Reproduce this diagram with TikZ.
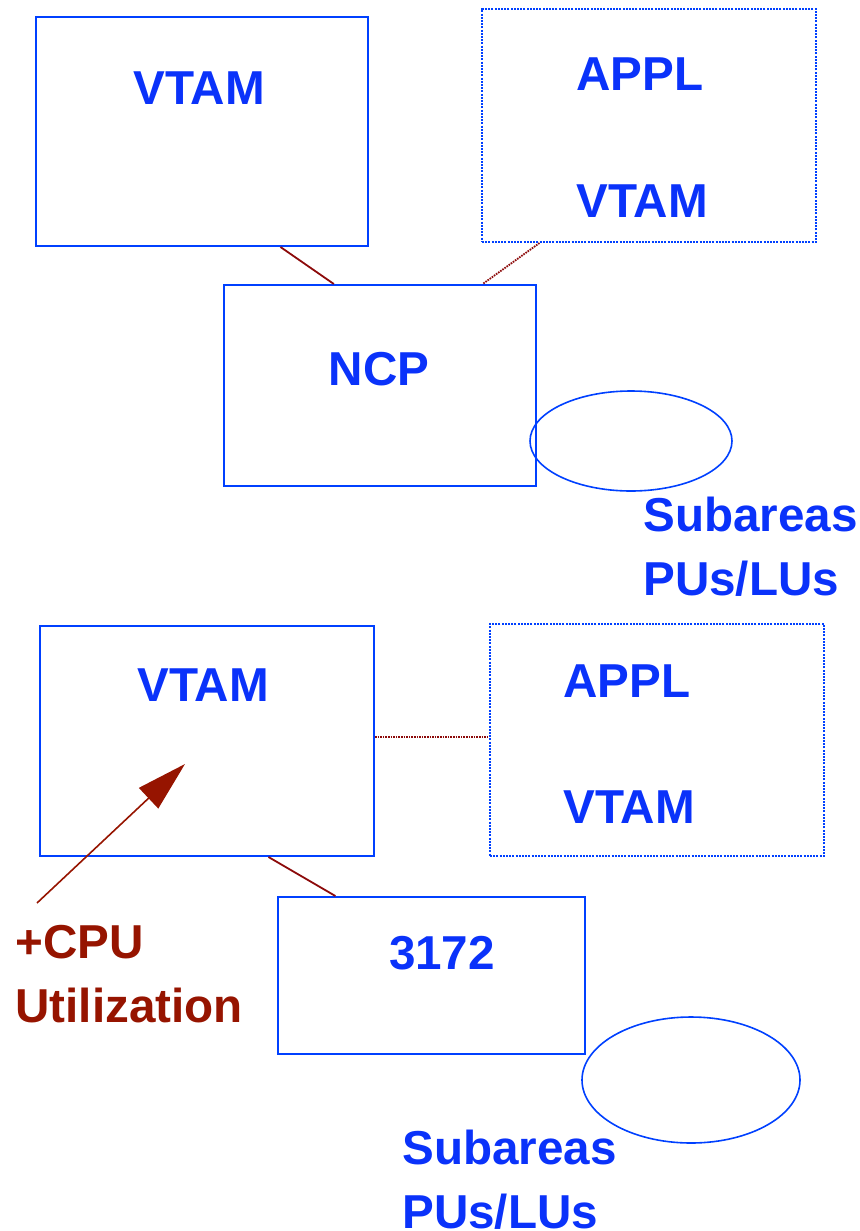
\documentclass[tikz,border=0pt]{standalone}
\usepackage{fontspec}
\setmainfont{Liberation Sans}
\usepackage{tikz}
\usetikzlibrary{shapes.geometric, arrows.meta, positioning, calc}
\definecolor{snablue}{RGB}{0,64,255}
\definecolor{snatext}{RGB}{10,50,250}
\definecolor{snared}{RGB}{150,20,0}
\definecolor{linkred}{RGB}{140,10,10}
\tikzset{
  hostbox/.style={rectangle, draw=snablue, line width=1pt,
    inner sep=0pt},
  remotebox/.style={rectangle, draw=snablue, line width=1pt,
    dash pattern=on 1pt off 0.6pt, inner sep=0pt},
  netcloud/.style={ellipse, draw=snablue, line width=0.8pt, inner sep=0pt},
  boxlabel/.style={font=\fontsize{23.8}{32}\selectfont\bfseries,
    text=snatext, inner sep=0pt, anchor=base},
  sidelabel/.style={font=\fontsize{23.8}{32}\selectfont\bfseries,
    text=snatext, inner sep=0pt, anchor=north west, align=left},
  link/.style={line width=0.9pt, color=linkred},
  dottedlink/.style={line width=0.9pt, color=linkred,
    dash pattern=on 0.8pt off 0.5pt},
  cpuarrow/.style={-{Triangle[length=25pt, width=14pt]},
    line width=0.8pt, color=snared}
}

\begin{document}
\begin{tikzpicture}[x=0.5pt, y=-0.5pt]
  \useasboundingbox (0,0) rectangle (860,1231);

  % Top: VTAM -- NCP -- remote host
  \node[hostbox, minimum width=166pt, minimum height=114.5pt] (vtamA) at (202,131.5) {};
  \node[remotebox, minimum width=167pt, minimum height=116.5pt] (applA) at (649,125.5) {};
  \node[hostbox, minimum width=156pt, minimum height=100.5pt] (ncp) at (380,385.5) {};
  \node[netcloud, minimum width=101pt, minimum height=50pt] (cloudA) at (631,441) {};

  \node[boxlabel] (vtamAtxt) at (199,104) {VTAM};
  \node[boxlabel] (applAtxt) at (640,90) {APPL};
  \node[boxlabel] (applAvtam) at (642,217) {VTAM};
  \node[boxlabel] (ncptxt) at (379,385) {NCP};
  \node[sidelabel] (subA) at (643,497) {Subareas\\PUs/LUs};

  \draw[link] ($(vtamA.south west)!0.735!(vtamA.south east)$) -- ($(ncp.north west)!0.353!(ncp.north east)$);
  \draw[dottedlink] ($(applA.south west)!0.174!(applA.south east)$) -- ($(ncp.north west)!0.827!(ncp.north east)$);

  % Bottom: VTAM -- 3172 -- remote host
  \node[hostbox, minimum width=167pt, minimum height=115pt] (vtamB) at (207,741) {};
  \node[remotebox, minimum width=167pt, minimum height=116pt] (applB) at (657,740) {};
  \node[hostbox, minimum width=153.5pt, minimum height=78.5pt] (ctrl) at (431.5,975.5) {};
  \node[netcloud, minimum width=109pt, minimum height=63pt] (cloudB) at (691,1080) {};

  \node[boxlabel] (vtamBtxt) at (203,701) {VTAM};
  \node[boxlabel] (applBtxt) at (627,697) {APPL};
  \node[boxlabel] (applBvtam) at (629,823) {VTAM};
  \node[boxlabel] (ctrltxt) at (442,969) {3172};
  \node[sidelabel] (subB) at (402,1130) {Subareas\\PUs/LUs};

  \draw[dottedlink] (vtamB.east |- 0,737) -- (applB.west |- 0,737);
  \draw[link] ($(vtamB.south west)!0.683!(vtamB.south east)$) -- ($(ctrl.north west)!0.189!(ctrl.north east)$);

  % CPU load
  \node[sidelabel, text=snared] (cpu) at (15,925) {+CPU\\Utilization};
  \coordinate (cpuTail) at (37,903);
  \coordinate (cpuHead) at (185,764);
  \draw[cpuarrow] (cpuTail) -- (cpuHead);
\end{tikzpicture}
\end{document}
